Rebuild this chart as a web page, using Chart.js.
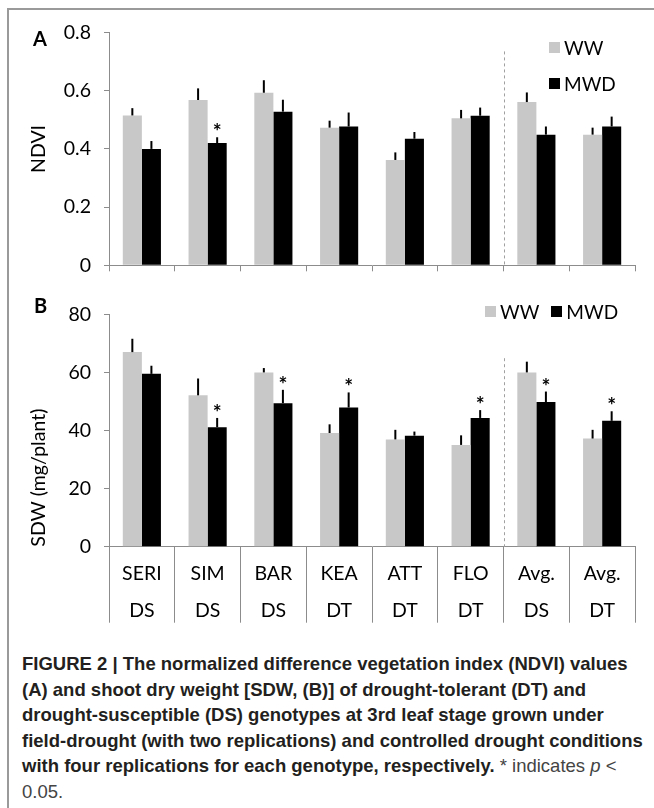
<!DOCTYPE html>
<html>
<head>
<meta charset="utf-8">
<script src="https://cdn.jsdelivr.net/npm/chart.js@4.4.1/dist/chart.umd.min.js"></script>
<style>
  body { margin: 0; background: #fff; width: 654px; height: 808px; position: relative; overflow: hidden; font-family: Lato, sans-serif; }
  #frame { position: absolute; left: 7px; top: 8px; width: 660px; height: 820px; border-top: 2px solid #9a9a9a; border-left: 2px solid #9a9a9a; }
  canvas { position: absolute; left: 0; }
  #cA { top: 0; }
  #cB { top: 290px; }
  .panel { position: absolute; font: bold 20px Lato, sans-serif; color: #000; line-height: 1; }
  .lg { position: absolute; font: 19px Lato, sans-serif; color: #000; display: flex; align-items: center; line-height: 1; white-space: nowrap; }
  .sw { display: inline-block; width: 11px; height: 11px; margin-right: 4px; }
  #caption { position: absolute; left: 22px; top: 651px; font: bold 18.5px/25.6px "Liberation Sans", Arial, sans-serif; color: #231f20; white-space: nowrap; }
  #caption .reg { font-weight: normal; color: #444; }
</style>
</head>
<body>
<div id="frame"></div>
<canvas id="cA" width="654" height="290"></canvas>
<canvas id="cB" width="654" height="345"></canvas>

<div class="panel" style="left:33px;top:28px">A</div>
<div class="panel" style="left:34px;top:295px">B</div>

<div class="lg" style="left:549px;top:38px"><span class="sw" style="background:#c8c8c8"></span>WW</div>
<div class="lg" style="left:549px;top:74px"><span class="sw" style="background:#000"></span>MWD</div>

<div class="lg" style="left:485px;top:302px"><span class="sw" style="background:#c8c8c8"></span>WW<span class="sw" style="background:#000;margin-left:12px"></span>MWD</div>

<div id="caption">
FIGURE 2 | The normalized difference vegetation index (NDVI) values<br>
(A) and shoot dry weight [SDW, (B)] of drought-tolerant (DT) and<br>
drought-susceptible (DS) genotypes at 3rd leaf stage grown under<br>
field-drought (with two replications) and controlled drought conditions<br>
with four replications for each genotype, respectively.<span class="reg"> * indicates <i>p</i> &lt;</span><br>
<span class="reg">0.05.</span>
</div>

<script>
// ---- data ----
const categories = ['SERI', 'SIM', 'BAR', 'KEA', 'ATT', 'FLO', 'Avg.', 'Avg.']
const groups     = ['DS', 'DS', 'DS', 'DT', 'DT', 'DT', 'DS', 'DT']

// panel A: NDVI
const ndviWW     = [0.515, 0.568, 0.593, 0.473, 0.362, 0.505, 0.561, 0.449]
const ndviWWErr  = [0.025, 0.040, 0.043, 0.024, 0.026, 0.029, 0.033, 0.024]
const ndviMWD    = [0.400, 0.420, 0.528, 0.477, 0.435, 0.514, 0.449, 0.477]
const ndviMWDErr = [0.027, 0.020, 0.041, 0.048, 0.023, 0.028, 0.028, 0.034]
const ndviSig    = [false, true, false, false, false, false, false, false]

// panel B: SDW (mg/plant)
const sdwWW      = [67.1, 52.2, 60.1, 39.2, 37.0, 35.1, 60.1, 37.3]
const sdwWWErr   = [4.6, 5.8, 1.5, 3.0, 3.3, 3.3, 3.7, 3.0]
const sdwMWD     = [59.6, 41.2, 49.5, 48.0, 38.3, 44.4, 49.9, 43.4]
const sdwMWDErr  = [2.8, 3.2, 4.6, 5.2, 1.4, 2.7, 3.6, 3.3]
const sdwSig     = [false, true, true, true, false, true, true, true]

const AXIS = '#8c8c8c'
const GREY = '#c8c8c8'

Chart.defaults.font.family = 'Lato, sans-serif'
Chart.defaults.font.size = 19.5
Chart.defaults.color = '#000'

// error bars (upward only), significance stars and the dashed divider
const extrasPlugin = {
  id: 'extras',
  afterDatasetsDraw (chart, args, opts) {
    const { ctx, scales: { x, y } } = chart
    ctx.save()
    chart.data.datasets.forEach((ds, di) => {
      const meta = chart.getDatasetMeta(di)
      meta.data.forEach((bar, i) => {
        const top = y.getPixelForValue(ds.data[i] + ds.errors[i])
        ctx.strokeStyle = '#000'
        ctx.lineWidth = 2
        ctx.beginPath()
        ctx.moveTo(bar.x, bar.y)
        ctx.lineTo(bar.x, top)
        ctx.stroke()
        if (ds.sig && ds.sig[i]) {
          ctx.fillStyle = '#000'
          ctx.font = 'bold 21px Lato, sans-serif'
          ctx.textAlign = 'center'
          ctx.textBaseline = 'alphabetic'
          ctx.fillText('*', bar.x, top + 2)
        }
      })
    })
    // dashed line between genotypes and averages
    const xd = Math.round(x.getPixelForValue(opts.dividerAt)) + 0.5
    ctx.strokeStyle = '#a0a0a0'
    ctx.lineWidth = 1
    ctx.setLineDash([3, 3])
    ctx.beginPath()
    ctx.moveTo(xd, y.getPixelForValue(opts.dividerTop))
    ctx.lineTo(xd, y.bottom)
    ctx.stroke()
    ctx.restore()
  }
}

function makePanel (canvasId, cfg) {
  return new Chart(document.getElementById(canvasId), {
    type: 'bar',
    data: {
      labels: cfg.labels,
      datasets: [
        { label: 'WW', data: cfg.ww, errors: cfg.wwErr, backgroundColor: GREY, borderWidth: 0 },
        { label: 'MWD', data: cfg.mwd, errors: cfg.mwdErr, sig: cfg.sig, backgroundColor: '#000', borderWidth: 0 }
      ]
    },
    options: {
      responsive: false,
      animation: false,
      events: [],
      layout: { padding: cfg.padding },
      datasets: { bar: { categoryPercentage: 0.58, barPercentage: 1 } },
      plugins: {
        legend: { display: false },
        tooltip: { enabled: false },
        extras: { dividerAt: 5.5, dividerTop: cfg.dividerTop }
      },
      scales: {
        x: {
          grid: { drawOnChartArea: false, offset: true, tickLength: cfg.xTick, color: AXIS },
          border: { color: AXIS },
          ticks: cfg.xTicks,
          afterFit: s => { s.height = cfg.xHeight }
        },
        y: {
          min: 0,
          max: cfg.max,
          grid: { drawOnChartArea: false, tickLength: 5, color: AXIS },
          border: { color: AXIS },
          ticks: { stepSize: cfg.step, padding: 13, callback: cfg.fmt },
          title: { display: true, text: cfg.title, font: { size: 19.5 }, align: cfg.titleAlign, padding: { top: 27, bottom: 0 } },
          afterFit: s => { s.width = 109 }
        }
      }
    },
    plugins: [extrasPlugin]
  })
}

makePanel('cA', {
  labels: categories,
  ww: ndviWW, wwErr: ndviWWErr, mwd: ndviMWD, mwdErr: ndviMWDErr, sig: ndviSig,
  max: 0.8, step: 0.2,
  fmt: v => (v === 0 ? '0' : v.toFixed(1)),
  title: 'NDVI', titleAlign: 'center',
  dividerTop: 0.735,
  xTick: 6, xHeight: 10,
  xTicks: { display: false },
  padding: { left: 0, right: 19, top: 32.5, bottom: 7.5 }
})

makePanel('cB', {
  labels: categories.map((c, i) => [c, groups[i]]),
  ww: sdwWW, wwErr: sdwWWErr, mwd: sdwMWD, mwdErr: sdwMWDErr, sig: sdwSig,
  max: 80, step: 20,
  fmt: v => String(v),
  title: 'SDW (mg/plant)', titleAlign: 'start',
  dividerTop: 65,
  xTick: 76, xHeight: 80,
  xTicks: { padding: 8 - 76, maxRotation: 0, autoSkip: false, font: { size: 19.5, lineHeight: 1.9 } },
  padding: { left: 0, right: 19, top: 15, bottom: 8.3 }
})
</script>
</body>
</html>
